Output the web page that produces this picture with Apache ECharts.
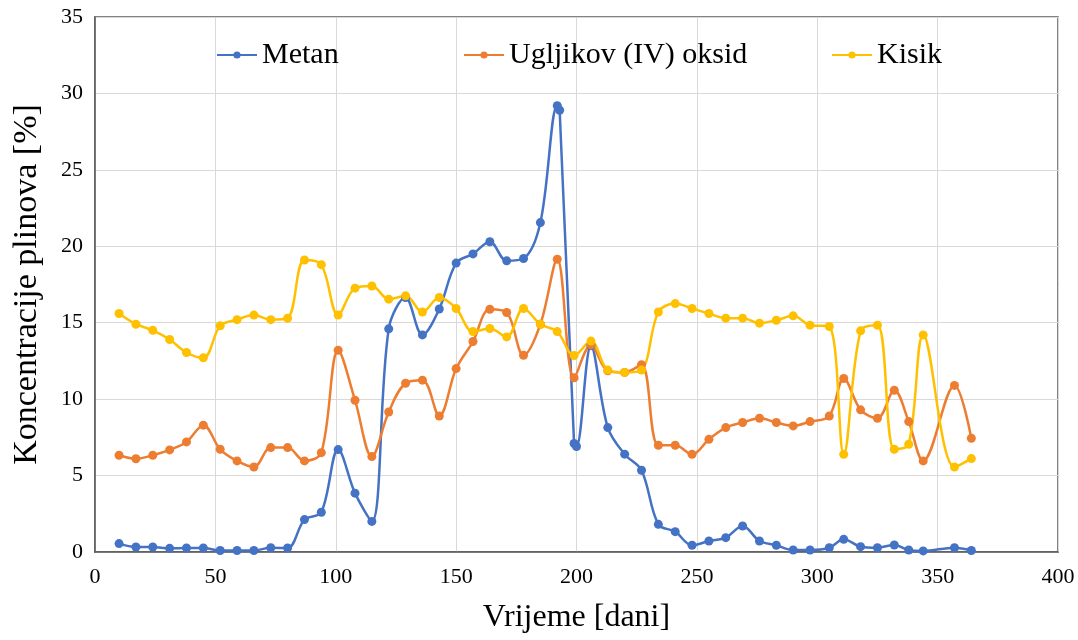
<!DOCTYPE html>
<html>
<head>
<meta charset="utf-8">
<script src="https://cdn.jsdelivr.net/npm/echarts@6/dist/echarts.min.js"></script>
<style>
html,body{margin:0;padding:0;background:#fff;}
#chart{width:1078px;height:640px;}
</style>
</head>
<body>
<div id="chart"></div>
<script>
// Shared sampling days (Ugljikov (IV) oksid, Kisik)
const days = [10,17,24,31,38,45,52,59,66,73,80,87,94,101,108,115,122,129,136,143,150,157,164,171,178,185,192,199,206,213,220,227,234,241,248,255,262,269,276,283,290,297,305,311,318,325,332,338,344,357,364];
// Metan has two extra readings (193, 200)
const metanDays = [10,17,24,31,38,45,52,59,66,73,80,87,94,101,108,115,122,129,136,143,150,157,164,171,178,185,192,193,199,200,206,213,220,227,234,241,248,255,262,269,276,283,290,297,305,311,318,325,332,338,344,357,364];
const metan = [0.55,0.33,0.33,0.24,0.26,0.26,0.1,0.1,0.1,0.28,0.26,2.12,2.6,6.7,3.85,2.0,14.6,16.65,14.2,15.9,18.9,19.5,20.3,19.05,19.2,21.55,29.2,28.9,7.1,6.9,13.5,8.14,6.4,5.35,1.81,1.33,0.44,0.72,0.94,1.7,0.72,0.44,0.13,0.13,0.28,0.83,0.35,0.28,0.46,0.13,0.07,0.28,0.1];
const co2 = [6.33,6.1,6.33,6.68,7.2,8.3,6.72,5.96,5.56,6.83,6.83,5.96,6.5,13.2,9.93,6.24,9.16,11.04,11.24,8.9,12.0,13.77,15.88,15.67,12.87,14.9,19.15,11.4,13.55,11.85,11.75,12.25,6.98,6.98,6.39,7.37,8.14,8.47,8.75,8.47,8.25,8.53,8.9,11.35,9.3,8.75,10.58,8.53,5.96,10.9,7.44];
const kisik = [15.6,14.9,14.5,13.9,13.05,12.7,14.8,15.2,15.5,15.2,15.3,19.1,18.8,15.5,17.26,17.4,16.54,16.76,15.7,16.65,15.93,14.42,14.62,14.07,15.93,14.9,14.42,12.85,13.8,11.9,11.74,11.9,15.7,16.25,15.93,15.6,15.3,15.3,14.97,15.16,15.45,14.84,14.75,6.39,14.47,14.84,6.72,7.05,14.2,5.56,6.11];
const seriesNames = ['Metan','Ugljikov (IV) oksid','Kisik'];
const colors = ['#4472C4','#ED7D31','#FFC000'];

const FONT = "'Liberation Serif','Times New Roman',serif";
const zip = (xs, ys) => xs.map((x, i) => [x, ys[i]]);

const chart = echarts.init(document.getElementById('chart'), null, {renderer:'canvas'});
const mkSeries = (name, data, color) => ({
  name, type:'line', data, smooth:0.35,
  symbol:'circle', symbolSize:9, showSymbol:true,
  lineStyle:{color, width:2.5}, itemStyle:{color},
  emphasis:{disabled:true}, animation:false
});
const legendBase = {
  top:35, itemWidth:40, itemHeight:9, itemGap:4,
  textStyle:{fontFamily:FONT, fontSize:30, color:'#000'}
};
chart.setOption({
  backgroundColor:'#fff',
  animation:false,
  color:colors,
  grid:{left:95, right:20, top:17, bottom:88, show:true, borderColor:'#595959', borderWidth:1.5, backgroundColor:'transparent'},
  legend:[
    Object.assign({}, legendBase, {left:211, data:[seriesNames[0]]}),
    Object.assign({}, legendBase, {left:458, data:[seriesNames[1]]}),
    Object.assign({}, legendBase, {left:826, data:[seriesNames[2]]})
  ],
  xAxis:{
    type:'value', min:0, max:400, interval:50,
    name:'Vrijeme [dani]', nameLocation:'middle', nameGap:50,
    nameTextStyle:{fontFamily:FONT, fontSize:32, color:'#000'},
    axisLine:{show:true, lineStyle:{color:'#595959', width:1.5}},
    axisTick:{show:false},
    axisLabel:{fontFamily:FONT, fontSize:22, color:'#000', margin:14},
    splitLine:{show:true, lineStyle:{color:'#d9d9d9', width:1}}
  },
  yAxis:{
    type:'value', min:0, max:35, interval:5,
    name:'Koncentracije plinova [%]', nameLocation:'middle', nameGap:51,
    nameTextStyle:{fontFamily:FONT, fontSize:34, color:'#000'},
    axisLine:{show:true, lineStyle:{color:'#595959', width:1.5}},
    axisTick:{show:false},
    axisLabel:{fontFamily:FONT, fontSize:22, color:'#000', margin:12},
    splitLine:{show:true, lineStyle:{color:'#d9d9d9', width:1}}
  },
  series:[
    mkSeries(seriesNames[0], zip(metanDays, metan), colors[0]),
    mkSeries(seriesNames[1], zip(days, co2), colors[1]),
    mkSeries(seriesNames[2], zip(days, kisik), colors[2])
  ]
});
</script>
</body>
</html>
